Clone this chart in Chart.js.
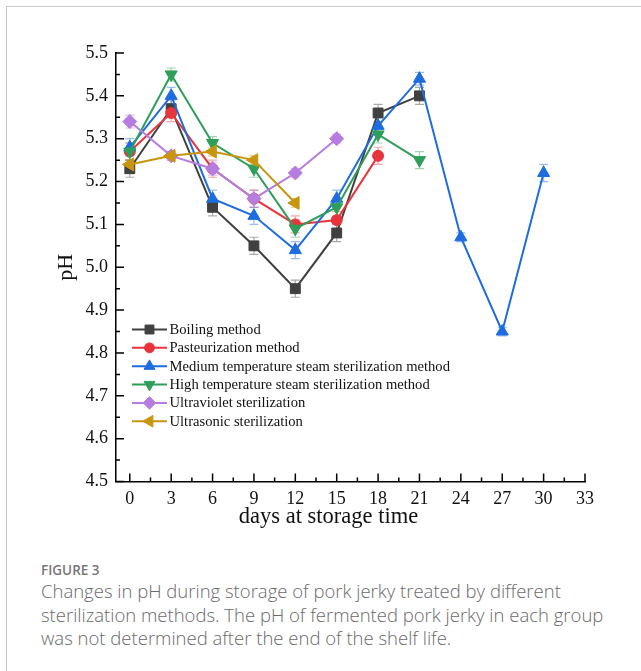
<!DOCTYPE html>
<html>
<head>
<meta charset="utf-8">
<script src="https://cdn.jsdelivr.net/npm/chart.js@4.4.1/dist/chart.umd.min.js"></script>
<style>
  html, body { margin: 0; padding: 0; background: #fff; }
  body { width: 641px; height: 671px; position: relative; overflow: hidden; }
  #frame { position: absolute; left: 6px; top: 6px; width: 700px; height: 700px;
           border-top: 1.5px solid #c8c8c8; border-left: 1.5px solid #c8c8c8; }
  #chartBox { position: absolute; left: 0; top: 0; width: 641px; height: 550px; }
  #cap { position: absolute; left: 41px; top: 561px; width: 580px;
         font-family: "Open Sans", sans-serif; color: #6a6a6a; }
  #cap .fig { font-size: 13.5px; font-weight: 600; color: #777; line-height: 18px; margin: 0; }
  #cap .txt { font-size: 18.5px; line-height: 23.5px; margin: 0; font-weight: 300; }
</style>
</head>
<body>
<div id="frame"></div>
<div id="chartBox"><canvas id="c" width="641" height="550"></canvas></div>
<div id="cap">
  <p class="fig">FIGURE 3</p>
  <p class="txt">Changes in pH during storage of pork jerky treated by different sterilization methods. The pH of fermented pork jerky in each group was not determined after the end of the shelf life.</p>
</div>
<script>
// Storage days and axis ticks
const days = [0, 3, 6, 9, 12, 15, 18, 21, 24, 27, 30];
const xTicks = [0, 3, 6, 9, 12, 15, 18, 21, 24, 27, 30, 33];
const yTicks = [4.5, 4.6, 4.7, 4.8, 4.9, 5.0, 5.1, 5.2, 5.3, 5.4, 5.5];
const xTitle = 'days at storage time';

const seriesNames = [
  'Boiling method',
  'Pasteurization method',
  'Medium temperature steam sterilization method',
  'High temperature steam sterilization method',
  'Ultraviolet sterilization',
  'Ultrasonic sterilization'
];

// pH means per group (measured until end of shelf life)
const boiling      = [5.23, 5.37, 5.14, 5.05, 4.95, 5.08, 5.36, 5.40];
const pasteur      = [5.27, 5.36, 5.23, 5.16, 5.10, 5.11, 5.26];
const mediumSteam  = [5.28, 5.40, 5.16, 5.12, 5.04, 5.16, 5.33, 5.44, 5.07, 4.85, 5.22];
const highSteam    = [5.27, 5.45, 5.29, 5.23, 5.09, 5.14, 5.31, 5.25];
const ultraviolet  = [5.34, 5.26, 5.23, 5.16, 5.22, 5.30];
const ultrasonic   = [5.24, 5.26, 5.27, 5.25, 5.15];

// standard deviations
const boilingErr     = [0.02, 0.02, 0.02, 0.02, 0.02, 0.02, 0.02, 0.02];
const pasteurErr     = [0.02, 0.02, 0.02, 0.02, 0.02, 0.02, 0.02];
const mediumSteamErr = [0.02, 0.02, 0.02, 0.02, 0.02, 0.02, 0.02, 0.015, 0.01, 0.01, 0.02];
const highSteamErr   = [0.02, 0.015, 0.015, 0.02, 0.02, 0.02, 0.02, 0.02];
const ultravioletErr = [0.015, 0.01, 0.015, 0.02, 0.01, 0.01];
const ultrasonicErr  = [0.01, 0.01, 0.01, 0.01, 0.01];

const colors    = ['#404040', '#e8353b', '#1d6ce0', '#2f9e5a', '#b57ddf', '#c8960e'];
const errColors = ['rgba(64,64,64,0.45)', 'rgba(232,53,59,0.45)', 'rgba(29,108,224,0.45)',
                   'rgba(47,158,90,0.45)', 'rgba(181,125,223,0.5)', 'rgba(200,150,14,0.5)'];
const styles    = [
  { pointStyle: 'rect',     rotation: 0,   radius: 7   },
  { pointStyle: 'circle',   rotation: 0,   radius: 5.5 },
  { pointStyle: 'triangle', rotation: 0,   radius: 7   },
  { pointStyle: 'triangle', rotation: 180, radius: 7   },
  { pointStyle: 'rectRot',  rotation: 0,   radius: 7   },
  { pointStyle: 'triangle', rotation: -90, radius: 7.5 }
];
const values = [boiling, pasteur, mediumSteam, highSteam, ultraviolet, ultrasonic];
const errors = [boilingErr, pasteurErr, mediumSteamErr, highSteamErr, ultravioletErr, ultrasonicErr];

const datasets = values.map((vals, i) => ({
  label: seriesNames[i],
  data: vals.map((v, k) => ({ x: days[k], y: v })),
  errors: errors[i],
  errColor: errColors[i],
  borderColor: colors[i],
  backgroundColor: colors[i],
  borderWidth: 2,
  pointStyle: styles[i].pointStyle,
  pointRotation: styles[i].rotation,
  pointRadius: styles[i].radius,
  pointBorderWidth: 1,
  tension: 0,
  order: values.length - i
}));

const serif = '"Liberation Serif", "Times New Roman", serif';

// error bars with caps, drawn beneath lines and markers
const errorBars = {
  id: 'errorBars',
  beforeDatasetsDraw(chart) {
    const { ctx, scales: { x, y } } = chart;
    chart.data.datasets.forEach(ds => {
      ctx.save();
      ctx.strokeStyle = ds.errColor;
      ctx.lineWidth = 1.2;
      ds.data.forEach((p, k) => {
        const e = ds.errors[k];
        const px = x.getPixelForValue(p.x);
        const t = y.getPixelForValue(p.y + e);
        const b = y.getPixelForValue(p.y - e);
        ctx.beginPath();
        ctx.moveTo(px, t); ctx.lineTo(px, b);
        ctx.moveTo(px - 4.5, t); ctx.lineTo(px + 4.5, t);
        ctx.moveTo(px - 4.5, b); ctx.lineTo(px + 4.5, b);
        ctx.stroke();
      });
      ctx.restore();
    });
  }
};

// inward major and minor tick marks on both axes, plus the x-axis title
const innerTicks = {
  id: 'innerTicks',
  afterDraw(chart) {
    const { ctx, chartArea, scales: { x, y } } = chart;
    const x0 = x.left, yb = y.bottom;
    ctx.save();
    ctx.strokeStyle = '#000';
    ctx.lineWidth = 1.5;
    ctx.beginPath();
    xTicks.forEach((v, i) => {
      const px = x.getPixelForValue(v);
      ctx.moveTo(px, yb); ctx.lineTo(px, yb - 8);
      if (i < xTicks.length - 1) {
        const m = x.getPixelForValue((v + xTicks[i + 1]) / 2);
        ctx.moveTo(m, yb); ctx.lineTo(m, yb - 4);
      }
    });
    yTicks.forEach((v, i) => {
      const py = y.getPixelForValue(v);
      ctx.moveTo(x0, py); ctx.lineTo(x0 + 8, py);
      if (i < yTicks.length - 1) {
        const m = y.getPixelForValue((v + yTicks[i + 1]) / 2);
        ctx.moveTo(x0, m); ctx.lineTo(x0 + 4, m);
      }
    });
    ctx.stroke();
    ctx.fillStyle = '#111';
    ctx.font = '22.5px ' + serif;
    ctx.textAlign = 'center';
    ctx.textBaseline = 'alphabetic';
    ctx.fillText(xTitle, (chartArea.left + chartArea.right) / 2 - 22, chartArea.bottom + 41.5);
    ctx.restore();
  }
};

// legend inside the plot area, line + marker + label
const innerLegend = {
  id: 'innerLegend',
  afterDraw(chart) {
    const { ctx, chartArea } = chart;
    const left = chartArea.left + 16, top = chartArea.top + 276.5, step = 18.35;
    ctx.save();
    chart.data.datasets.forEach((ds, i) => {
      const cy = top + i * step;
      ctx.strokeStyle = ds.borderColor;
      ctx.lineWidth = 2;
      ctx.beginPath();
      ctx.moveTo(left, cy); ctx.lineTo(left + 35, cy);
      ctx.stroke();
      ctx.fillStyle = ds.backgroundColor;
      ctx.lineWidth = 1;
      Chart.helpers.drawPoint(ctx, {
        pointStyle: ds.pointStyle, rotation: ds.pointRotation,
        radius: ds.pointRadius * 0.9, borderWidth: 1
      }, left + 17.5, cy);
      ctx.fillStyle = '#111';
      ctx.font = '14.6px ' + serif;
      ctx.textBaseline = 'middle';
      ctx.textAlign = 'left';
      ctx.fillText(ds.label, left + 37.5, cy + 0.5);
    });
    ctx.restore();
  }
};

new Chart(document.getElementById('c'), {
  type: 'line',
  data: { datasets },
  plugins: [errorBars, innerTicks, innerLegend],
  options: {
    responsive: false,
    animation: false,
    devicePixelRatio: 1,
    layout: { padding: { left: 40, right: 56, top: 53, bottom: 8.5 } },
    plugins: { legend: { display: false }, tooltip: { enabled: false } },
    scales: {
      x: {
        type: 'linear',
        min: -1, max: 33,
        afterBuildTicks: s => { s.ticks = xTicks.map(v => ({ value: v })); },
        afterFit: s => { s.height = 60; },
        grid: { display: false, drawTicks: false },
        border: { display: true, color: '#000', width: 1.5 },
        ticks: { color: '#111', font: { family: serif, size: 18 }, padding: 7, maxRotation: 0, autoSkip: false }
      },
      y: {
        type: 'linear',
        min: 4.5, max: 5.5,
        afterBuildTicks: s => { s.ticks = yTicks.map(v => ({ value: v })); },
        afterFit: s => { s.width = 76; },
        grid: { display: false, drawTicks: false },
        border: { display: true, color: '#000', width: 1.5 },
        ticks: { color: '#111', font: { family: serif, size: 18 }, padding: 8,
                 callback: v => Number(v).toFixed(1) },
        title: { display: true, text: 'pH', color: '#111',
                 font: { family: serif, size: 22 }, padding: { top: 13 } }
      }
    }
  }
});
</script>
</body>
</html>
